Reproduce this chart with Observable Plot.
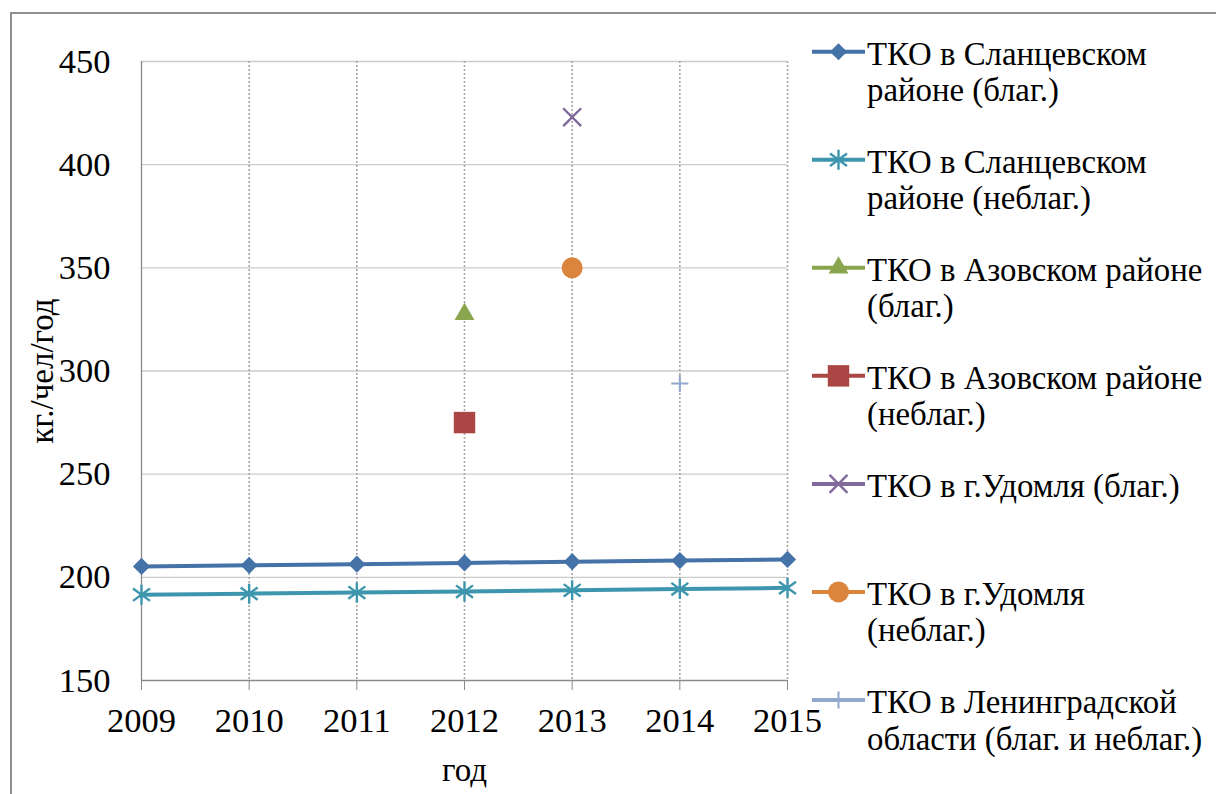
<!DOCTYPE html>
<html>
<head>
<meta charset="utf-8">
<script src="https://cdn.jsdelivr.net/npm/d3@7"></script>
<script src="https://cdn.jsdelivr.net/npm/@observablehq/plot@0.6"></script>
<style>
  html, body { margin: 0; padding: 0; background: #fff; overflow: hidden; }
  #wrap { position: relative; width: 1216px; height: 794px; font-family: "Liberation Serif", "Times New Roman", serif; }
  #frame { position: absolute; left: 10px; top: 12px; width: 1230px; height: 810px; border: 2px solid #8f8f8f; box-sizing: border-box; }
  #wrap svg { position: absolute; left: 0; top: 0; }
  #wrap svg, #wrap svg text { font-family: "Liberation Serif", "Times New Roman", serif; }
</style>
</head>
<body>
<div id="wrap"><div id="frame"></div></div>
<script>
// Years on the x axis
const years = [2009, 2010, 2011, 2012, 2013, 2014, 2015];
// Waste per person, kg/person/year — Slantsy district, full series
const slantsyBlag = [205.3, 205.8, 206.4, 207.0, 207.6, 208.1, 208.7];
const slantsyNeblag = [191.6, 192.1, 192.6, 193.1, 193.7, 194.3, 194.9];
// Single observations for the other areas
const azovBlag = [{year: 2012, value: 329}];
const azovNeblag = [{year: 2012, value: 275}];
const udomlyaBlag = [{year: 2013, value: 423}];
const udomlyaNeblag = [{year: 2013, value: 350}];
const leningrad = [{year: 2014, value: 294}];

const yTicks = [150, 200, 250, 300, 350, 400, 450];

const seriesNames = [
  ["ТКО в Сланцевском", "районе (благ.)"],
  ["ТКО в Сланцевском", "районе (неблаг.)"],
  ["ТКО в Азовском районе", "(благ.)"],
  ["ТКО в Азовском районе", "(неблаг.)"],
  ["ТКО в г.Удомля (благ.)"],
  ["ТКО в г.Удомля", "(неблаг.)"],
  ["ТКО в Ленинградской", "области (благ. и неблаг.)"]
];
const seriesColors = ["#4572A7", "#3D96AE", "#89A54E", "#AA4643", "#80699B", "#DB843D", "#92A8CD"];

// Asterisk-style star: a vertical bar crossed by two diagonals
const starSymbol = {
  draw(ctx, size) {
    const r = Math.sqrt(size / Math.PI);
    const u = r * 0.85, t = r * 0.62;
    ctx.moveTo(0, -r); ctx.lineTo(0, r);
    ctx.moveTo(-u, -t); ctx.lineTo(u, t);
    ctx.moveTo(-u, t); ctx.lineTo(u, -t);
  }
};

const markerStyles = [
  {symbol: d3.symbolDiamond2, r: 7.7, filled: true},
  {symbol: starSymbol, r: 10, filled: false, sw: 2.4},
  {symbol: d3.symbolTriangle, r: 7.4, filled: true, dy: 3},
  {symbol: d3.symbolSquare, r: 12.1, filled: true},
  {symbol: d3.symbolTimes, r: 8.2, filled: false, sw: 2.4},
  {symbol: d3.symbolCircle, r: 10.5, filled: true},
  {symbol: d3.symbolPlus, r: 5.6, filled: false, sw: 2}
];

const lineRows = [slantsyBlag, slantsyNeblag].map(vals => years.map((year, i) => ({year, value: vals[i]})));
const pointSets = [lineRows[0], lineRows[1], azovBlag, azovNeblag, udomlyaBlag, udomlyaNeblag, leningrad];

function dotMark(i) {
  const m = markerStyles[i];
  const c = seriesColors[i];
  return Plot.dot(pointSets[i], {
    x: "year", y: "value", symbol: m.symbol, r: m.r,
    fill: m.filled ? c : "none",
    stroke: m.filled ? "none" : c,
    strokeWidth: m.sw || 1,
    dy: m.dy || 0
  });
}

const axisGray = "#8a8a8a";
const serif = "'Liberation Serif', 'Times New Roman', serif";

const chart = Plot.plot({
  width: 1216,
  height: 794,
  marginLeft: 141,
  marginRight: 429,
  marginTop: 61,
  marginBottom: 114,
  style: {fontFamily: serif, color: "black", background: "transparent", overflow: "visible"},
  x: {domain: [2009, 2015]},
  y: {domain: [150, 450]},
  marks: [
    Plot.gridY(yTicks.slice(1), {stroke: "#cbcbcb", strokeOpacity: 1, strokeWidth: 1.3}),
    Plot.gridX(years.slice(1), {stroke: "#a8a8a8", strokeOpacity: 1, strokeWidth: 1.6, strokeDasharray: "2,2"}),
    Plot.ruleX([2009], {stroke: axisGray, strokeWidth: 1.3}),
    Plot.ruleY([150], {stroke: axisGray, strokeWidth: 1.3}),
    Plot.axisY({ticks: yTicks, tickSize: 0, tickPadding: 31, fontSize: 34.5, label: null}),
    Plot.axisX({ticks: years, tickFormat: d => String(d), tickSize: 10, tickPadding: 17, fontSize: 34.5, stroke: axisGray, label: null}),
    Plot.line(lineRows[0], {x: "year", y: "value", stroke: seriesColors[0], strokeWidth: 4}),
    Plot.line(lineRows[1], {x: "year", y: "value", stroke: seriesColors[1], strokeWidth: 4}),
    ...seriesColors.map((_, i) => dotMark(i)),
    Plot.text(["кг./чел/год"], {text: d => d, frameAnchor: "left", textAnchor: "middle", lineAnchor: "middle", dx: -99, rotate: -90, fontSize: 33}),
    Plot.text(["год"], {text: d => d, frameAnchor: "bottom", textAnchor: "middle", lineAnchor: "bottom", dy: 100, fontSize: 33})
  ]
});

const wrap = document.getElementById("wrap");
wrap.appendChild(chart);

// Legend on the right side
const legend = d3.select(wrap).append("svg")
  .attr("width", 1216).attr("height", 794)
  .style("pointer-events", "none");

const slot = 108.05, firstY = 51.7;
seriesNames.forEach((lines, i) => {
  const ly = firstY + i * slot;
  const g = legend.append("g");
  const c = seriesColors[i];
  const m = markerStyles[i];
  g.append("line").attr("x1", 812).attr("x2", 865).attr("y1", ly).attr("y2", ly)
    .attr("stroke", c).attr("stroke-width", 4);
  g.append("path")
    .attr("transform", `translate(838.5,${ly})`)
    .attr("d", d3.symbol().type(m.symbol).size(Math.PI * m.r * m.r)())
    .attr("fill", m.filled ? c : "none")
    .attr("stroke", m.filled ? "none" : c)
    .attr("stroke-width", m.sw || 1);
  lines.forEach((t, k) => {
    g.append("text").attr("x", 867).attr("y", ly + 13 + k * 36.5)
      .attr("font-size", 32.8).attr("fill", "black").text(t);
  });
});
</script>
</body>
</html>
